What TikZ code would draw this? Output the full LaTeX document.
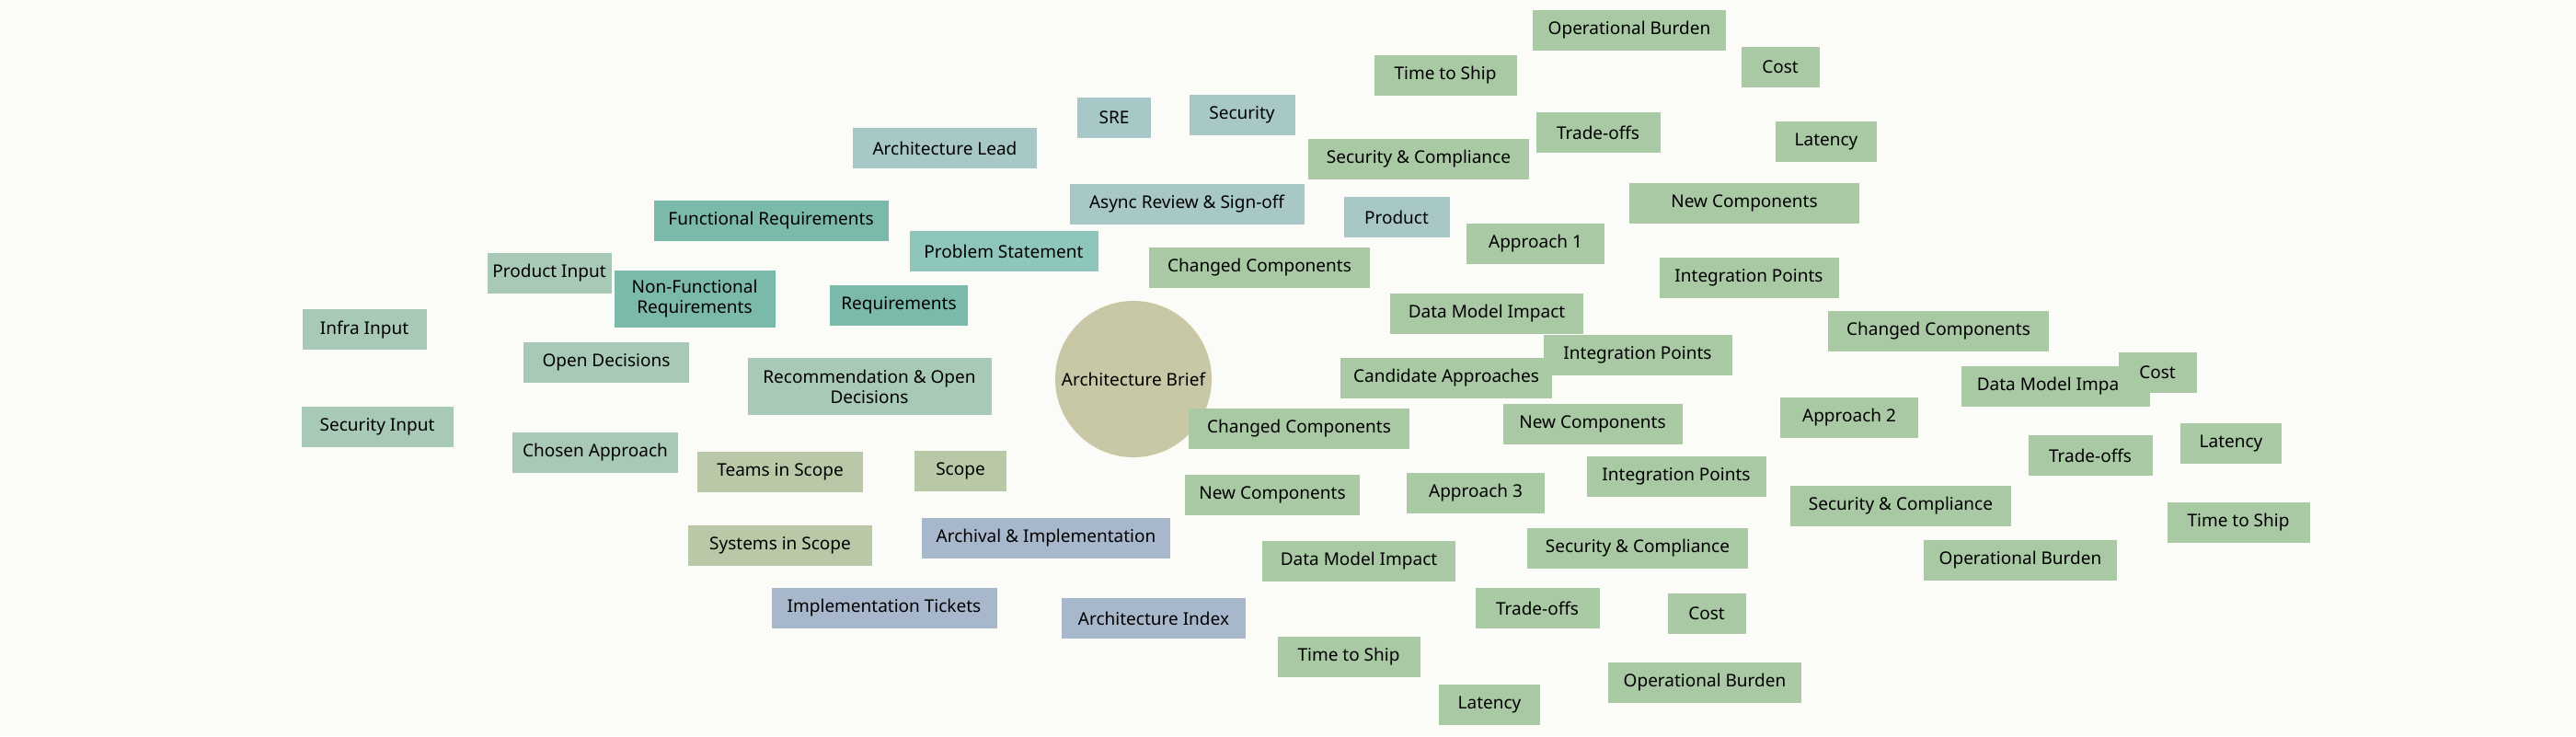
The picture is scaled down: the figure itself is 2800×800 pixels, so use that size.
\documentclass[tikz,border=0pt]{standalone}
\usepackage{fontspec}
\setmainfont{Noto Sans}
\usetikzlibrary{backgrounds}
\definecolor{bg}{HTML}{FBFBF7}
\definecolor{cc}{HTML}{C9C8A6}
\definecolor{gr}{HTML}{A9C9A4}
\definecolor{bl}{HTML}{A8C8C8}
\definecolor{te}{HTML}{7BB9AB}
\definecolor{tl}{HTML}{8FC6BC}
\definecolor{rc}{HTML}{A9C9B7}
\definecolor{sc}{HTML}{B9C8A6}
\definecolor{ar}{HTML}{A8B8CC}
\tikzset{
 bx/.style={rectangle,minimum height=22pt,inner sep=0pt,font=\fontsize{9.5}{11}\selectfont,align=center},
 e1/.style={line width=5pt},
 e2/.style={line width=3pt},
 e3/.style={line width=1.8pt},
}
\newcommand\mynode[6]{\node[bx,fill=#5,minimum width=#4*0.5pt] (#1) at (#2,#3) {#6};}
\begin{document}
\begin{tikzpicture}[x=0.5pt,y=-0.5pt]
\fill[bg] (0,0) rectangle (2800,800);
\useasboundingbox (0,0) rectangle (2800,800);
\node[circle,fill=cc,minimum size=170pt*0.5,inner sep=0,font=\fontsize{9.5}{11}\selectfont] (c) at (1232,412) {Architecture Brief};
% async
\mynode{as}{1290}{222}{255}{bl}{Async Review \& Sign-off}
\mynode{al}{1027}{161}{200}{bl}{Architecture Lead}
\mynode{sre}{1211}{128}{80}{bl}{SRE}
\mynode{sec}{1350}{125}{115}{bl}{Security}
\mynode{pro}{1518}{236}{115}{bl}{Product}
% requirements
\mynode{rq}{977}{332}{150}{te}{Requirements}
\mynode{fr}{838}{240}{255}{te}{Functional Requirements}
\node[bx,fill=te,minimum width=87.5pt,minimum height=31pt] (nfr) at (755,325) {Non-Functional\\Requirements};
\mynode{ps}{1091}{273}{205}{tl}{Problem Statement}
% recommendation
\node[bx,fill=rc,minimum width=132.5pt,minimum height=31pt] (rc) at (945,420) {Recommendation \& Open\\Decisions};
\mynode{od}{659}{394}{180}{rc}{Open Decisions}
\mynode{pi}{597}{297}{135}{rc}{Product Input}
\mynode{ii}{396}{358}{135}{rc}{Infra Input}
\mynode{si}{410}{464}{165}{rc}{Security Input}
\mynode{ca}{647}{492}{180}{rc}{Chosen Approach}
% scope
\mynode{sc}{1044}{512}{100}{sc}{Scope}
\mynode{ts}{848}{513}{180}{sc}{Teams in Scope}
\mynode{ss}{848}{593}{200}{sc}{Systems in Scope}
% archival
\mynode{ar}{1137}{585}{270}{ar}{Archival \& Implementation}
\mynode{it}{961}{661}{245}{ar}{Implementation Tickets}
\mynode{ai}{1254}{672}{200}{ar}{Architecture Index}
% candidate
\mynode{cap}{1572}{411}{230}{gr}{Candidate Approaches}
\mynode{a1}{1669}{265}{150}{gr}{Approach 1}
\mynode{a1s}{1542}{173}{240}{gr}{Security \& Compliance}
\mynode{a1t}{1737}{144}{135}{gr}{Trade-offs}
\mynode{a1tt}{1571}{82}{155}{gr}{Time to Ship}
\mynode{a1to}{1771}{33}{210}{gr}{Operational Burden}
\mynode{a1tc}{1935}{73}{85}{gr}{Cost}
\mynode{a1tl}{1985}{154}{110}{gr}{Latency}
\mynode{a1n}{1896}{221}{250}{gr}{New Components}
\mynode{a1i}{1901}{302}{195}{gr}{Integration Points}
\mynode{a1c}{1369}{291}{240}{gr}{Changed Components}
\mynode{a1d}{1616}{341}{210}{gr}{Data Model Impact}
\mynode{a2}{2010}{454}{150}{gr}{Approach 2}
\mynode{a2i}{1780}{386}{205}{gr}{Integration Points}
\mynode{a2c}{2107}{360}{240}{gr}{Changed Components}
\mynode{a2d}{2234}{420}{205}{gr}{Data Model Impact}
\mynode{a2n}{1731}{461}{195}{gr}{New Components}
\mynode{a2s}{2066}{550}{240}{gr}{Security \& Compliance}
\mynode{a2t}{2272}{495}{135}{gr}{Trade-offs}
\mynode{a2tc}{2345}{405}{85}{gr}{Cost}
\mynode{a2tl}{2425}{482}{110}{gr}{Latency}
\mynode{a2tt}{2433}{568}{155}{gr}{Time to Ship}
\mynode{a2to}{2196}{609}{210}{gr}{Operational Burden}
\mynode{a3}{1604}{536}{150}{gr}{Approach 3}
\mynode{a3c}{1412}{466}{240}{gr}{Changed Components}
\mynode{a3n}{1383}{538}{190}{gr}{New Components}
\mynode{a3i}{1822}{518}{195}{gr}{Integration Points}
\mynode{a3s}{1780}{596}{240}{gr}{Security \& Compliance}
\mynode{a3d}{1477}{610}{210}{gr}{Data Model Impact}
\mynode{a3t}{1671}{661}{135}{gr}{Trade-offs}
\mynode{a3tt}{1466}{714}{155}{gr}{Time to Ship}
\mynode{a3tl}{1619}{766}{110}{gr}{Latency}
\mynode{a3to}{1853}{742}{210}{gr}{Operational Burden}
\mynode{a3tc}{1855}{667}{85}{gr}{Cost}
\begin{pgfonlayer}{background}
\draw[e1,bl] (c.center) -- (as.center);
\draw[e1,te] (c.center) -- (rq.center);
\draw[e1,tl] (c.center) -- (ps.center);
\draw[e1,rc] (c.center) -- (rc.center);
\draw[e1,sc] (c.center) -- (sc.center);
\draw[e1,ar] (c.center) -- (ar.center);
\draw[e1,gr] (c.center) -- (cap.center);
\foreach \t in {al,sre,sec,pro} \draw[e2,bl] (as.center) -- (\t.center);
\foreach \t in {fr,nfr} \draw[e2,te] (rq.center) -- (\t.center);
\foreach \t in {od,ca} \draw[e2,rc] (rc.center) -- (\t.center);
\foreach \t in {pi,ii,si} \draw[e3,rc] (od.center) -- (\t.center);
\foreach \t in {ts,ss} \draw[e2,sc] (sc.center) -- (\t.center);
\foreach \t in {it,ai} \draw[e2,ar] (ar.center) -- (\t.center);
\foreach \t in {a1,a2,a3} \draw[e2,gr] (cap.center) -- (\t.center);
\foreach \t in {a1s,a1t,a1n,a1i,a1c,a1d} \draw[e3,gr] (a1.center) -- (\t.center);
\foreach \t in {a1tt,a1to,a1tc,a1tl} \draw[e3,gr] (a1t.center) -- (\t.center);
\foreach \t in {a2i,a2c,a2d,a2n,a2s,a2t} \draw[e3,gr] (a2.center) -- (\t.center);
\foreach \t in {a2tc,a2tl,a2tt,a2to} \draw[e3,gr] (a2t.center) -- (\t.center);
\foreach \t in {a3c,a3n,a3i,a3s,a3d,a3t} \draw[e3,gr] (a3.center) -- (\t.center);
\foreach \t in {a3tt,a3tl,a3to,a3tc} \draw[e3,gr] (a3t.center) -- (\t.center);
\end{pgfonlayer}
\end{tikzpicture}
\end{document}
